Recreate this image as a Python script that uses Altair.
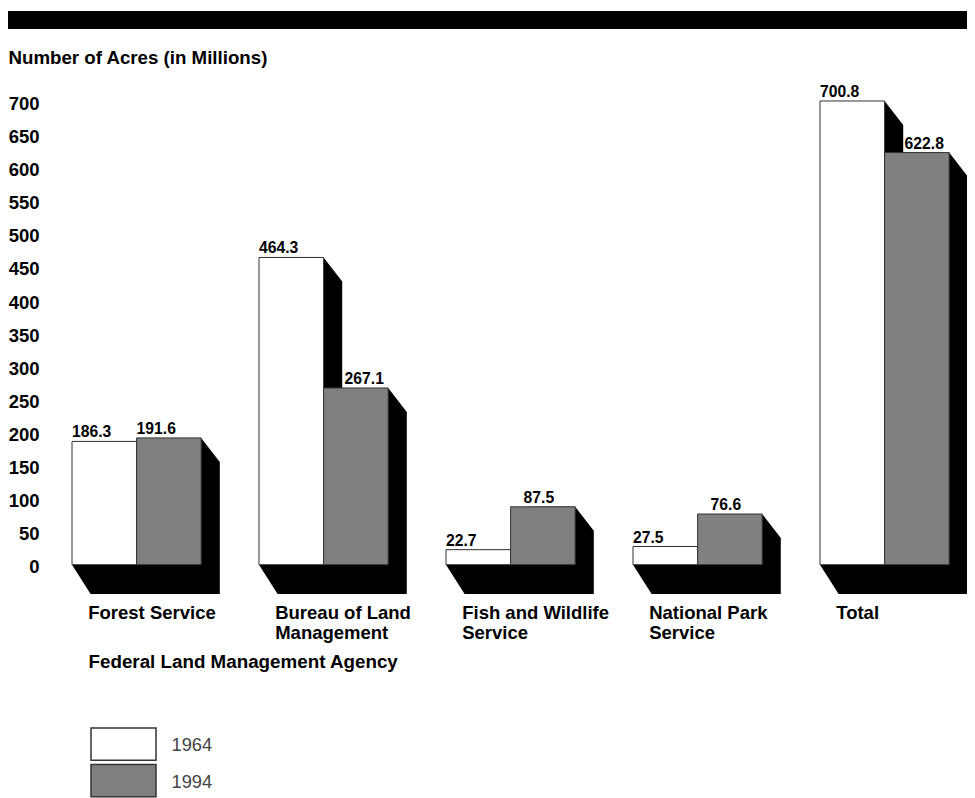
import json
import altair as alt
import pandas as pd

agencies = ["Forest Service", "Bureau of Land Management", "Fish and Wildlife Service", "National Park Service", "Total"]
label_lines = [["Forest Service"], ["Bureau of Land", "Management"], ["Fish and Wildlife", "Service"], ["National Park", "Service"], ["Total"]]
values_1964 = [186.3, 464.3, 22.7, 27.5, 700.8]
values_1994 = [191.6, 267.1, 87.5, 76.6, 622.8]
value_label_1994_shift = [0, 21, 13, 13, 20]
y_ticks = list(range(0, 701, 50))
x_title = "Federal Land Management Agency"
y_title = "Number of Acres (in Millions)"

# Layout (page pixels)
W, H = 959, 790
ZERO_Y, PX = 564.7, 0.6617
START, STEP, BAR = 72, 187, 64.6
DX, DTOP, DBOTTOM = 18.6, 24 / PX, 29.3 / PX
FONT = "Liberation Sans"

y_dom = [(ZERO_Y - (8 + H)) / PX, (ZERO_Y - 8) / PX]
xs = alt.Scale(domain=[8, 8 + W], nice=False, zero=False)
ys = alt.Scale(domain=y_dom, nice=False, zero=False)

bars, shadows, labels = [], [], []
for g, (a, b) in enumerate(zip(values_1964, values_1994)):
    x0 = START + g * STEP
    x1, x2 = x0 + BAR, x0 + 2 * BAR
    bars.append(dict(x=x0, x2=x1, v=a, year="1964"))
    bars.append(dict(x=x1, x2=x2, v=b, year="1994"))
    labels.append(dict(x=x0, v=a, t=f"{a:.1f}"))
    labels.append(dict(x=x1 + value_label_1994_shift[g], v=b, t=f"{b:.1f}"))
    low = -DBOTTOM
    pts = [(x0, a, 0), (x0 + DX, a, low), (x1, a, low)]
    if a - DTOP > b:
        pts += [(x1 + DX, a - DTOP, low), (x1 + DX, b, low)]
    else:
        pts += [(x1 + DX, b, low)]
    pts += [(x2, b, low), (x2 + DX, b - DTOP, low)]
    for i, (px, up, lo) in enumerate(pts):
        shadows.append(dict(group=g, i=i, sx=px, up=up, lo=lo))

df_bars = pd.DataFrame(bars)
df_shadow = pd.DataFrame(shadows)
df_labels = pd.DataFrame(labels)

x_label_vals = [START + 15.7 + g * STEP for g in range(len(agencies))]
label_expr = f"{json.dumps(label_lines)}[round((datum.value-{START + 15.7})/{STEP})]"

x_axis = alt.Axis(
    values=x_label_vals, labelExpr=label_expr, labelAlign="left", labelBaseline="middle",
    labelFont=FONT, labelFontWeight="bold", labelFontSize=18.5, labelColor="black",
    labelLineHeight=20, labelOverlap=False, labelFlush=False, labelBound=False,
    labelPadding=1, domain=False, ticks=False, grid=False, offset=-187,
    titleFont=FONT, titleFontWeight="bold",
    titleFontSize=18.8, titleColor="black", titleAlign="left", titleBaseline="middle",
    titleX=80, titleY=50)
y_axis = alt.Axis(
    values=y_ticks, labelFont=FONT, labelFontWeight="bold", labelFontSize=18.5,
    labelColor="black", labelAlign="right", labelBaseline="middle", labelPadding=1,
    labelOffset=2, labelOverlap=False, labelBound=False, labelFlush=False,
    domain=False, ticks=False, grid=False, offset=-32,
    titleFont=FONT, titleFontWeight="bold",
    titleFontSize=18.7, titleColor="black", titleAngle=0, titleAlign="left",
    titleBaseline="middle", titleX=-32, titleY=49)

band = alt.Chart(pd.DataFrame({"a": [0]})).mark_rect(color="black").encode(
    x=alt.value(0), x2=alt.value(W), y=alt.value(3), y2=alt.value(21))

shadow = alt.Chart(df_shadow).mark_area(color="black", interpolate="linear").encode(
    x=alt.X("sx:Q", scale=xs, axis=x_axis, title=x_title),
    y=alt.Y("up:Q", scale=ys, axis=y_axis, stack=None, title=y_title),
    y2="lo:Q",
    detail="group:N",
)

rects = alt.Chart(df_bars).mark_rect(stroke="#333333", strokeWidth=1).encode(
    x=alt.X("x:Q", scale=xs, title=x_title),
    x2="x2:Q",
    y=alt.Y("v:Q", scale=ys, title=y_title),
    y2=alt.Y2(datum=0),
    fill=alt.Fill("year:N", scale=alt.Scale(domain=["1964", "1994"], range=["white", "#808080"]),
                  legend=alt.Legend(
                      title=None, orient="none", legendX=98.5, legendY=721.4, direction="vertical",
                      symbolType="M-2,-1.14H2V0.86H-2Z", symbolSize=1056, symbolStrokeColor="#333333",
                      symbolStrokeWidth=1.5, labelFont=FONT, labelFontSize=18.3, labelColor="#444444",
                      labelOffset=31, rowPadding=-2.5, padding=0)),
)

texts = alt.Chart(df_labels).mark_text(
    align="left", baseline="bottom", dy=-1, font=FONT, fontWeight="bold", fontSize=15.7, color="black"
).encode(
    x=alt.X("x:Q", scale=xs, title=x_title),
    y=alt.Y("v:Q", scale=ys, title=y_title),
    text="t:N",
)

chart = alt.layer(band, shadow, rects, texts).properties(
    width=W, height=H, padding=0, autosize=alt.AutoSizeParams(type="none")
).configure_view(stroke=None)

chart.save("out.html", embed_options={"renderer": "svg", "actions": False})
